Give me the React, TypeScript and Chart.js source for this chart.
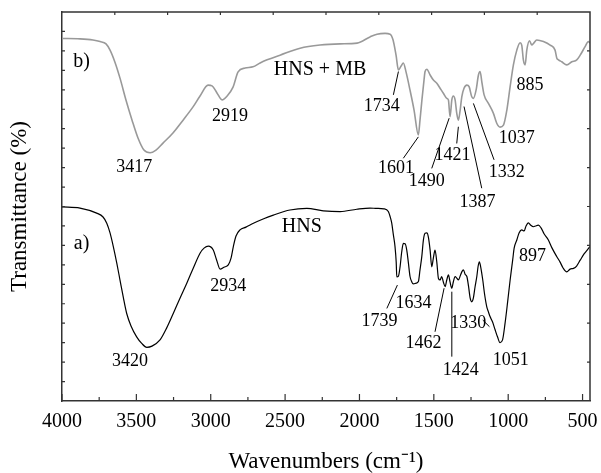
import React, { useEffect, useRef } from "react";
import { Chart, registerables } from "chart.js";

Chart.register(...registerables);

// ---- Data (wavenumber cm^-1, transmittance arbitrary 0-100) ----
const wavenumbersHNS = [4000,3879,3767,3724,3699,3677,3655,3632,3610,3588,3565,3536,3498,3464,3430,3395,3341,3296,3252,3206,3161,3117,3072,3045,3016,2983,2960,2937,2911,2882,2863,2848,2830,2803,2763,2713,2648,2579,2467,2354,2243,2130,2018,1929,1884,1835,1806,1791,1783,1772,1761,1753,1749,1738,1727,1716,1705,1693,1682,1671,1660,1648,1638,1619,1604,1593,1581,1570,1559,1547,1537,1525,1514,1503,1492,1480,1469,1458,1447,1436,1424,1413,1402,1391,1379,1369,1357,1346,1335,1323,1312,1301,1290,1278,1267,1256,1245,1234,1223,1211,1202,1194,1186,1171,1159,1144,1133,1122,1105,1088,1072,1055,1038,1021,1004,987,970,960,942,927,909,893,880,864,849,830,816,797,779,759,730,705,673,651,631,606,584,561,540,516,490,469,450];
const transmittanceHNS = [49.9,49.6,48.3,47.3,45.7,43.2,39.7,35.5,31.1,26.7,22.5,19.3,16.5,14.8,13.8,14.1,15.7,18.8,22.5,26.5,30.3,34.2,38.0,39.3,39.8,38.8,36.2,33.9,34.4,35.0,36.8,39.7,42.4,44.0,44.7,45.7,46.8,47.8,49.1,49.5,48.9,48.7,49.3,49.6,49.5,49.4,48.7,47.0,45.7,42.7,39.7,35.7,31.9,32.1,34.5,38.3,40.5,40.4,38.8,35.5,32.0,30.6,30.1,30.3,30.7,33.7,37.1,41.4,43.1,43.2,42.2,38.8,34.5,36.8,38.8,35.7,31.5,31.1,32.0,30.6,29.4,31.1,32.4,30.6,29.0,30.6,32.0,31.6,31.1,32.1,33.2,33.7,32.6,32.0,29.6,26.5,25.5,26.5,29.3,32.0,34.7,35.8,34.7,31.1,27.5,24.2,22.9,21.7,20.3,18.3,16.5,15.0,15.7,20.0,25.4,31.1,36.2,39.3,41.4,43.2,44.0,43.7,45.0,45.8,45.2,44.8,45.0,45.2,44.5,43.0,41.4,39.3,37.1,35.7,34.2,33.2,33.9,34.1,34.7,36.2,37.8,38.8,39.7];

const wavenumbersHNSMB = [4000,3879,3792,3744,3704,3677,3644,3610,3570,3529,3489,3449,3408,3368,3321,3254,3186,3119,3072,3018,2991,2958,2924,2890,2850,2816,2769,2716,2668,2621,2534,2399,2265,2130,2016,1929,1882,1828,1794,1774,1754,1738,1720,1705,1687,1660,1633,1604,1593,1580,1566,1559,1547,1525,1503,1480,1458,1436,1413,1402,1391,1379,1369,1357,1346,1335,1323,1312,1297,1278,1263,1245,1234,1216,1200,1189,1176,1162,1133,1100,1077,1055,1032,1009,987,965,942,920,909,898,886,875,857,841,830,808,763,718,685,673,662,640,606,572,539,516,483,461,450];
const transmittanceHNSMB = [93.2,93.1,92.8,92.4,91.8,90.2,87.1,83.0,77.4,72.2,67.6,64.5,63.8,64.5,66.3,68.9,72.2,75.6,78.4,81.2,81.0,79.2,77.4,78.4,80.7,84.6,85.6,85.9,86.9,87.7,88.9,90.7,91.5,91.8,92.0,93.6,94.3,94.5,94.3,92.8,88.9,85.1,86.1,86.9,84.6,79.9,74.8,68.4,72.2,77.4,82.5,84.7,85.3,83.8,82.5,81.7,80.4,79.1,77.8,77.4,73.1,77.4,78.4,77.4,74.0,72.2,74.8,78.2,80.4,81.2,80.8,78.2,77.8,79.9,83.8,84.7,81.7,78.7,76.5,74.0,71.4,70.4,70.9,74.8,80.8,86.4,90.2,92.1,91.5,87.7,86.4,90.2,92.6,91.5,91.9,92.8,92.4,91.5,90.2,88.1,87.7,87.2,86.4,87.2,87.7,88.9,91.1,92.4,92.0];

// ---- Axis ticks ----
const xTickValues = [4000, 3500, 3000, 2500, 2000, 1500, 1000, 500];
const xTickLabels = ["4000", "3500", "3000", "2500", "2000", "1500", "1000", "500"];
const xMinorTickValues = [3750, 3250, 2750, 2250, 1750, 1250, 750];
const topTickValues = [3645, 3290, 2935, 2580, 2225, 1870, 1515, 1160, 805];
const leftTickValues = [5, 10, 15, 20, 25, 30, 35, 40, 45, 50, 55, 60, 65, 70, 75, 80, 85, 90, 95];
const rightTickValues = [10, 20, 30, 40, 50, 60, 70, 80, 90];

// ---- Annotations (data coordinates) ----
const panelLabels = [
  { text: "b)", x: 3868, y: 87.2 },
  { text: "a)", x: 3868, y: 40.5 },
];
const seriesLabels = [
  { text: "HNS + MB", x: 2265, y: 85.1 },
  { text: "HNS", x: 2388, y: 44.8 },
];
const peakLabels = [
  { text: "3417", x: 3514, y: 60.2 },
  { text: "2919", x: 2870, y: 73.1 },
  { text: "1734", x: 1850, y: 75.7 },
  { text: "1601", x: 1754, y: 59.8 },
  { text: "1490", x: 1548, y: 56.4 },
  { text: "1421", x: 1375, y: 63.2 },
  { text: "1387", x: 1207, y: 51.2 },
  { text: "1332", x: 1010, y: 58.9 },
  { text: "1037", x: 942, y: 67.5 },
  { text: "885", x: 853, y: 81.2 },
  { text: "3420", x: 3543, y: 10.1 },
  { text: "2934", x: 2882, y: 29.4 },
  { text: "1739", x: 1866, y: 20.4 },
  { text: "1634", x: 1637, y: 25.1 },
  { text: "1462", x: 1570, y: 14.8 },
  { text: "1424", x: 1319, y: 8.0 },
  { text: "1330", x: 1268, y: 20.0 },
  { text: "1051", x: 983, y: 10.5 },
  { text: "897", x: 837, y: 37.3 },
];
const leaderLines = [
  { x1: 1772, y1: 78.7, x2: 1738, y2: 84.7 },
  { x1: 1705, y1: 62.4, x2: 1604, y2: 67.9 },
  { x1: 1514, y1: 59.8, x2: 1397, y2: 72.7 },
  { x1: 1346, y1: 66.2, x2: 1335, y2: 70.5 },
  { x1: 1178, y1: 54.7, x2: 1297, y2: 75.7 },
  { x1: 1095, y1: 62.0, x2: 1234, y2: 76.5 },
  { x1: 1816, y1: 23.8, x2: 1745, y2: 29.8 },
  { x1: 1492, y1: 17.8, x2: 1431, y2: 29.0 },
  { x1: 1379, y1: 11.4, x2: 1379, y2: 28.1 },
  { x1: 1171, y1: 20.8, x2: 1126, y2: 19.1 },
];

const SERIF = "Liberation Serif";
const FRAME = "#333333";

Chart.defaults.font.family = SERIF;
Chart.defaults.color = "#000";

const framePlugin = {
  id: "frameAndAnnotations",
  afterDraw(chart: any) {
    const { ctx, chartArea } = chart;
    const { left, right, top, bottom } = chartArea;
    const xs = chart.scales.x;
    const ys = chart.scales.y;
    ctx.save();
    ctx.strokeStyle = FRAME;
    ctx.lineWidth = 1.5;
    ctx.beginPath();
    ctx.moveTo(left, top);
    ctx.lineTo(right, top);
    ctx.lineTo(right, bottom);
    ctx.stroke();
    ctx.lineWidth = 1.2;
    ctx.beginPath();
    xTickValues.forEach((v) => {
      const px = xs.getPixelForValue(v);
      ctx.moveTo(px, bottom);
      ctx.lineTo(px, bottom - 7);
    });
    xMinorTickValues.forEach((v) => {
      const px = xs.getPixelForValue(v);
      ctx.moveTo(px, bottom);
      ctx.lineTo(px, bottom - 4);
    });
    topTickValues.forEach((v) => {
      const px = xs.getPixelForValue(v);
      ctx.moveTo(px, top);
      ctx.lineTo(px, top + 3);
    });
    leftTickValues.forEach((v) => {
      const py = ys.getPixelForValue(v);
      ctx.moveTo(left, py);
      ctx.lineTo(left + 3, py);
    });
    rightTickValues.forEach((v) => {
      const py = ys.getPixelForValue(v);
      ctx.moveTo(right, py);
      ctx.lineTo(right - 3, py);
    });
    ctx.stroke();

    ctx.strokeStyle = "#000";
    ctx.lineWidth = 1;
    ctx.beginPath();
    leaderLines.forEach((l) => {
      ctx.moveTo(xs.getPixelForValue(l.x1), ys.getPixelForValue(l.y1));
      ctx.lineTo(xs.getPixelForValue(l.x2), ys.getPixelForValue(l.y2));
    });
    ctx.stroke();

    ctx.fillStyle = "#000";
    ctx.textAlign = "center";
    ctx.textBaseline = "middle";
    ctx.font = `20px "${SERIF}", serif`;
    panelLabels.concat(seriesLabels).forEach((t) => {
      ctx.fillText(t.text, xs.getPixelForValue(t.x), ys.getPixelForValue(t.y));
    });
    ctx.font = `18px "${SERIF}", serif`;
    peakLabels.forEach((t) => {
      ctx.fillText(t.text, xs.getPixelForValue(t.x), ys.getPixelForValue(t.y));
    });
    ctx.restore();
  },
};

export default function App() {
  const canvasRef = useRef<HTMLCanvasElement | null>(null);

  useEffect(() => {
    document.body.style.margin = "0";
    document.body.style.overflow = "hidden";
    const canvas = canvasRef.current;
    if (!canvas) return;
    const chart = new Chart(canvas, {
      type: "line",
      data: {
        datasets: [
          {
            label: "HNS + MB",
            data: wavenumbersHNSMB.map((w, i) => ({ x: w, y: transmittanceHNSMB[i] })),
            borderColor: "#999999",
            borderWidth: 1.6,
            pointRadius: 0,
            cubicInterpolationMode: "monotone",
            fill: false,
          },
          {
            label: "HNS",
            data: wavenumbersHNS.map((w, i) => ({ x: w, y: transmittanceHNS[i] })),
            borderColor: "#000000",
            borderWidth: 1.2,
            pointRadius: 0,
            cubicInterpolationMode: "monotone",
            fill: false,
          },
        ],
      },
      options: {
        animation: false,
        responsive: false,
        devicePixelRatio: 1,
        layout: { padding: { top: 12, right: 11, left: 0, bottom: 0 } },
        plugins: {
          legend: { display: false },
          tooltip: { enabled: false },
        },
        scales: {
          x: {
            type: "linear",
            reverse: true,
            min: 450,
            max: 4000,
            afterBuildTicks: (scale: any) => {
              scale.ticks = xTickValues.map((v) => ({ value: v }));
            },
            afterFit: (scale: any) => {
              scale.height = 72;
              scale.paddingLeft = 0;
              scale.paddingRight = 0;
            },
            ticks: {
              autoSkip: false,
              maxRotation: 0,
              padding: 9,
              color: "#000",
              font: { family: SERIF, size: 20 },
              callback: (v: any) => {
                const i = xTickValues.indexOf(Number(v));
                return i >= 0 ? xTickLabels[i] : "";
              },
            },
            grid: { display: false, drawTicks: false },
            border: { display: true, color: FRAME, width: 1.5 },
            title: {
              display: true,
              text: "Wavenumbers (cm\u207B\u00B9)",
              color: "#000",
              font: { family: SERIF, size: 23, lineHeight: 1 },
              padding: { top: 0, bottom: 0 },
            },
          },
          y: {
            type: "linear",
            min: 0,
            max: 100,
            ticks: { display: false },
            grid: { display: false, drawTicks: false },
            border: { display: true, color: FRAME, width: 1.5 },
            afterFit: (scale: any) => {
              scale.width = 62;
            },
            title: {
              display: true,
              text: "Transmittance (%)",
              color: "#000",
              font: { family: SERIF, size: 23, lineHeight: 1 },
              padding: { top: 8, bottom: 0 },
            },
          },
        },
      },
      plugins: [framePlugin],
    });
    return () => chart.destroy();
  }, []);

  return (
    <canvas
      ref={canvasRef}
      width={601}
      height={473}
      style={{ display: "block", width: 601, height: 473 }}
    />
  );
}
